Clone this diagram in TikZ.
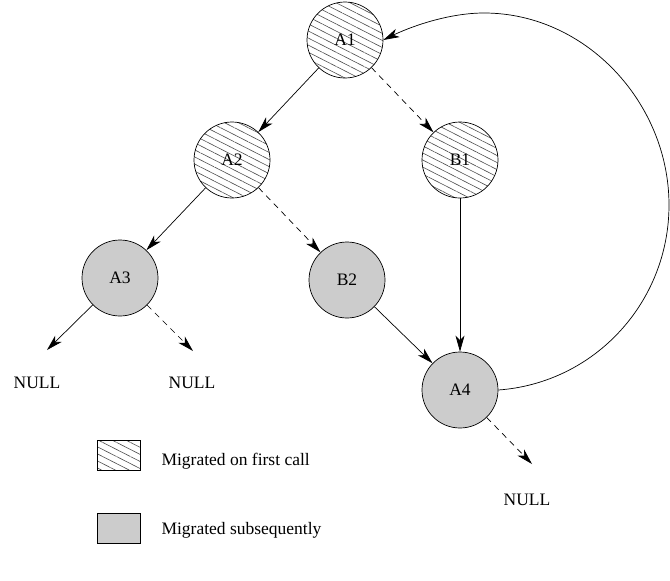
\documentclass[tikz,border=0pt]{standalone}
\usepackage{fontspec}
\setmainfont{Liberation Serif}
\usetikzlibrary{arrows.meta,patterns.meta}
\begin{document}
\begin{tikzpicture}[x=1pt,y=-1pt,
  every node/.style={font=\fontsize{17.5}{20}\selectfont},
  tnode/.style={circle,draw,line width=0.7pt,minimum size=76pt,inner sep=0pt},
  hatched/.style={pattern={Lines[angle=-27,distance=6.3pt,line width=0.6pt]},pattern color=black!70},
  shaded/.style={fill=black!20},
  link/.style={line width=0.7pt,-{Stealth[length=16pt,width=9pt,inset=4.5pt]}},
  dlink/.style={link,dash pattern=on 6pt off 5pt},
  keybox/.style={draw,line width=0.7pt,minimum width=43pt,minimum height=30pt,inner sep=0pt}]
\useasboundingbox (0,0) rectangle (670,581);

% tree nodes
\node[tnode,hatched] (A1) at (345,40) {A1};
\node[tnode,hatched] (A2) at (232,160) {A2};
\node[tnode,hatched] (B1) at (460,160) {B1};
\node[tnode,shaded] (A3) at (120,278) {A3};
\node[tnode,shaded] (B2) at (347,280) {B2};
\node[tnode,shaded] (A4) at (460,390) {A4};

% null leaves
\node (N1) at (37,383) {NULL};
\node (N2) at (192,383) {NULL};
\node (N3) at (527,500) {NULL};
\coordinate (t1) at (47,350);
\coordinate (t2) at (193,351);
\coordinate (t3) at (532,464);

% child pointers
\draw[link]  (A1) -- (A2);
\draw[dlink] (A1) -- (B1);
\draw[link]  (A2) -- (A3);
\draw[dlink] (A2) -- (B2);
\draw[link]  (A3) -- (t1);
\draw[dlink] (A3) -- (t2);
\draw[link]  (B2) -- (A4);
\draw[link]  (B1) -- (A4);
\draw[dlink] (A4) -- (t3);

% back pointer from A4 to A1
\draw[link] (A4.east) .. controls (595,383) and (669,302) .. (669,205)
  .. controls (669,103) and (586,13) .. (484,13)
  .. controls (448,13) and (410,27) .. (A1.east);

% legend
\node[keybox,hatched] (k1) at (118.5,455) {};
\node[keybox,shaded] (k2) at (118.5,528) {};
\node[anchor=west] (l1) at (158,461) {Migrated on first call};
\node[anchor=west] (l2) at (158,530) {Migrated subsequently};
\end{tikzpicture}
\end{document}
